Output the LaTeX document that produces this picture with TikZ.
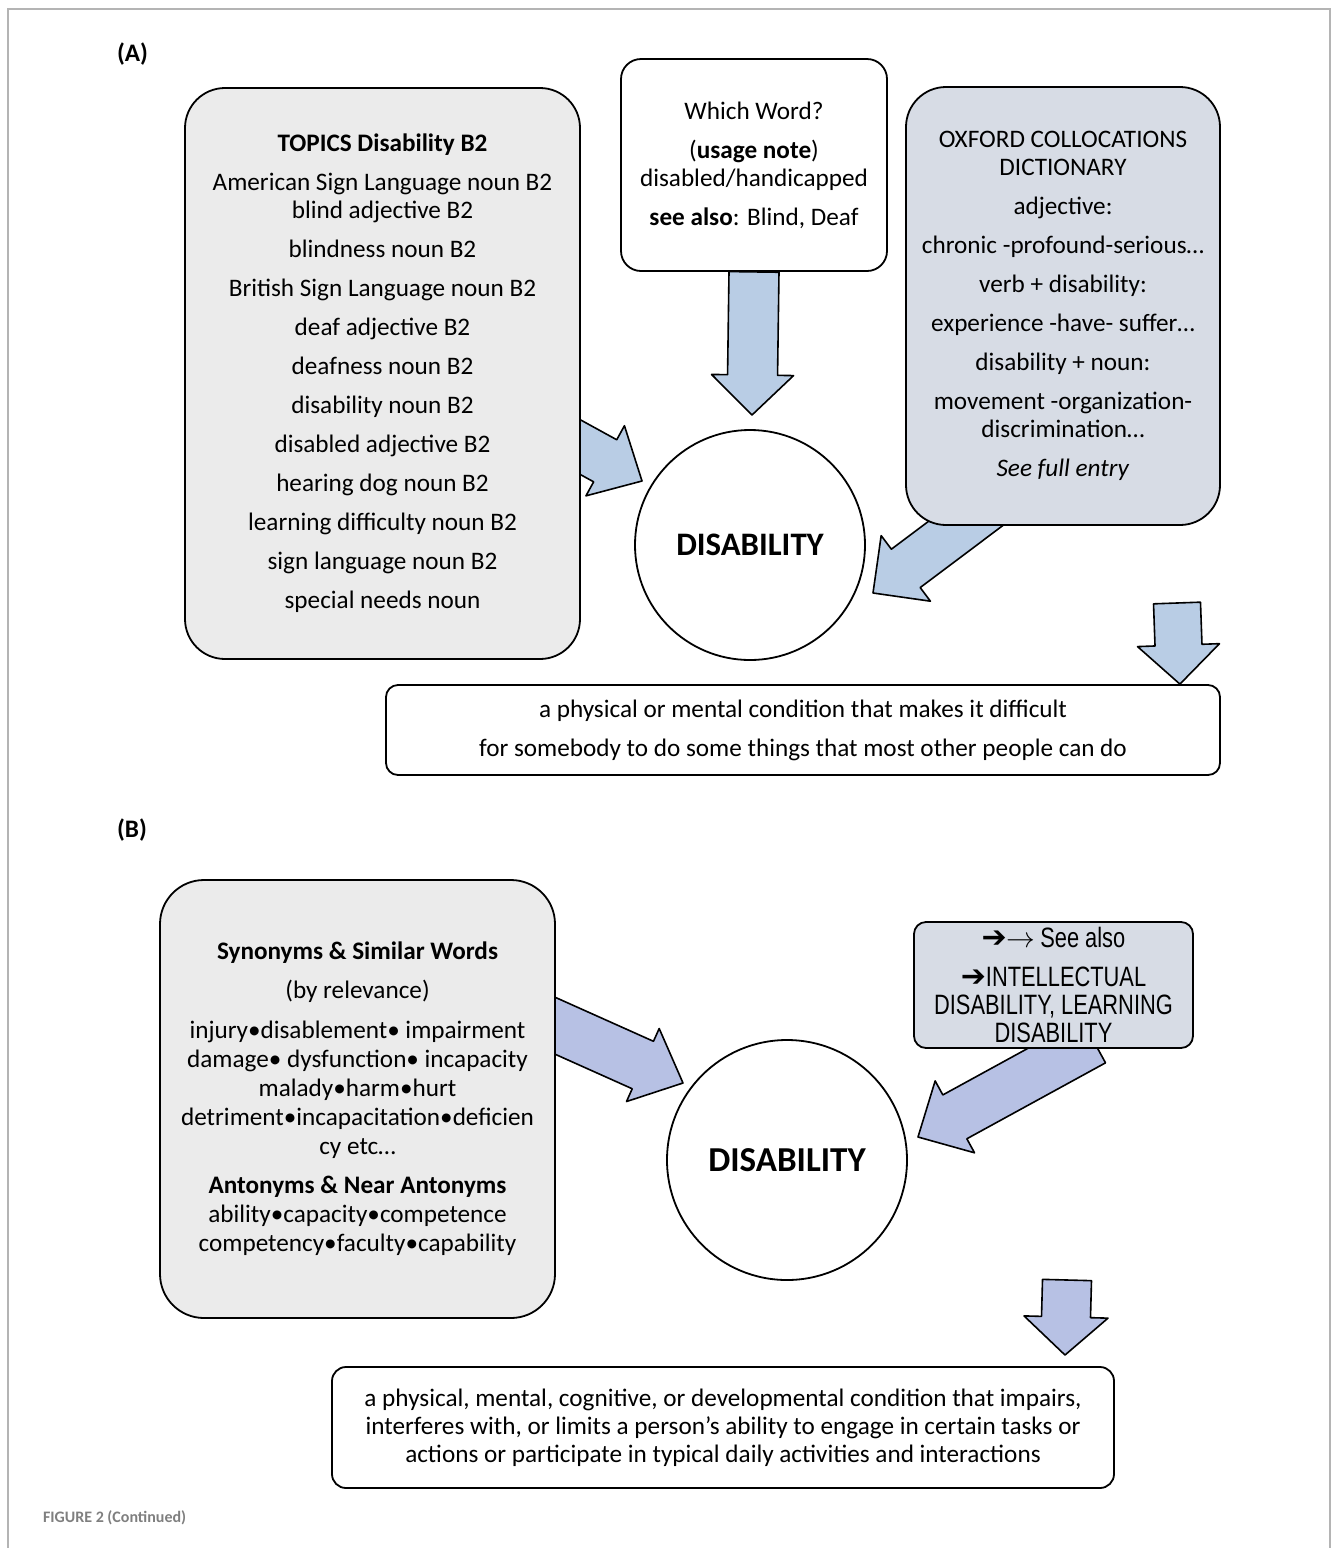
\documentclass[tikz,border=0pt]{standalone}
\usepackage{fontspec}
\setmainfont{Carlito}
\newfontfamily\arialfont{Liberation Sans}
\newfontfamily\symfont{DejaVu Sans}
\usepackage{graphicx}
\usetikzlibrary{calc,backgrounds}

\definecolor{arrowblue}{HTML}{B9CDE5}
\definecolor{arrowlav}{HTML}{B7C1E4}
\definecolor{boxgray}{HTML}{EBEBEB}
\definecolor{boxblue}{HTML}{D7DCE5}
\definecolor{framegray}{HTML}{B4B4B4}
\definecolor{capgray}{HTML}{7F7F7F}

% block arrow: [fill] {tail}{tip}{half shaft}{half head}{head length}
\newcommand{\fatarrow}[6][arrowblue]{%
  \draw[fatarrowline, fill=#1]
    ($(#2)!#4!90:(#3)$) -- ($(#3)!#6!(#2)!#4!-90:(#2)$) -- ($(#3)!#6!(#2)!#5!-90:(#2)$)
    -- (#3) -- ($(#3)!#6!(#2)!#5!90:(#2)$) -- ($(#3)!#6!(#2)!#4!90:(#2)$)
    -- ($(#2)!#4!-90:(#3)$) -- cycle;}
\newcommand{\squeeze}[1]{\scalebox{0.78}[1]{#1}}
\newcommand{\heavyarrow}{{\symfont\bfseries\fontsize{15}{14}\selectfont ➔}}

\begin{document}
\begin{tikzpicture}[x=0.5pt, y=-0.5pt,
    font=\fontsize{12.6}{14}\selectfont,
    box/.style={draw, line width=0.9pt, align=center, inner sep=0pt},
    graybox/.style={box, fill=boxgray, rounded corners=20pt},
    bluebox/.style={box, fill=boxblue},
    whitebox/.style={box, fill=white},
    disk/.style={draw, line width=0.9pt, circle, fill=white, inner sep=0pt},
    panellabel/.style={font=\fontsize{12.6}{14}\selectfont\bfseries, anchor=west},
    fatarrowline/.style={draw, line width=0.8pt, line join=round}]
  \useasboundingbox (0,0) rectangle (1331,1548);
  % page frame
  \draw[framegray, line width=1pt] (8,1548) -- (8,9) -- (1330,9) -- (1330,1548);

  % panel (A)
  \node[panellabel] (labA) at (110,54) {(A)};
  \node[graybox, minimum width=197.5pt, minimum height=285.5pt] (topics) at (382.5,373.5)
    {\textbf{TOPICS Disability B2}\\[5.5pt]
     American Sign Language noun B2\\
     blind adjective B2\\[5.5pt]
     blindness noun B2\\[5.5pt]
     British Sign Language noun B2\\[5.5pt]
     deaf adjective B2\\[5.5pt]
     deafness noun B2\\[5.5pt]
     disability noun B2\\[5.5pt]
     disabled adjective B2\\[5.5pt]
     hearing dog noun B2\\[5.5pt]
     learning difficulty noun B2\\[5.5pt]
     sign language noun B2\\[5.5pt]
     special needs noun};
  \node[whitebox, rounded corners=10pt, minimum width=133pt, minimum height=106pt] (which) at (754,165)
    {Which Word?\\[5.5pt]
     (\textbf{usage note})\\
     disabled/handicapped\\[5.5pt]
     \textbf{see also}: Blind, Deaf};
  \node[bluebox, rounded corners=20pt, minimum width=157pt, minimum height=219pt] (oxford) at (1063,306)
    {OXFORD COLLOCATIONS\\
     DICTIONARY\\[5.5pt]
     adjective:\\[5.5pt]
     chronic -profound-serious\dots\\[5.5pt]
     verb + disability:\\[5.5pt]
     experience -have- suffer\dots\\[5.5pt]
     disability + noun:\\[5.5pt]
     movement -organization-\\
     discrimination\dots\\[5.5pt]
     \textit{See full entry}};
  \node[disk, minimum size=115pt, font=\fontsize{16.4}{18}\selectfont\bfseries] (diskA) at (750,545) {DISABILITY};
  \node[whitebox, rounded corners=6pt, minimum width=417pt, minimum height=45pt] (defA) at (803,730)
    {a physical or mental condition that makes it difficult\\[5.5pt]
     for somebody to do some things that most other people can do};

  % panel (B)
  \node[panellabel] (labB) at (110,830) {(B)};
  \node[graybox, rounded corners=22pt, minimum width=197.5pt, minimum height=219pt,
        font=\fontsize{12.6}{14.5}\selectfont] (synonyms) at (357.5,1099)
    {\textbf{Synonyms \& Similar Words}\\[5pt]
     (by relevance)\\[5.5pt]
     injury•disablement• impairment\\
     damage• dysfunction• incapacity\\
     malady•harm•hurt\\
     detriment•incapacitation•deficien\\
     cy etc\dots\\[5pt]
     \textbf{Antonyms \& Near Antonyms}\\
     ability•capacity•competence\\
     competency•faculty•capability};
  \node[bluebox, rounded corners=6pt, minimum width=139.5pt, minimum height=63pt,
        font=\arialfont\fontsize{14}{14}\selectfont] (seealso) at (1053.5,985)
    {\heavyarrow$\rightarrow$\,\squeeze{See also}\\[5.5pt]
     \heavyarrow\squeeze{INTELLECTUAL}\\
     \squeeze{DISABILITY, LEARNING}\\
     \squeeze{DISABILITY}};
  \node[disk, minimum size=120pt, font=\fontsize{17.5}{19}\selectfont\bfseries] (diskB) at (787,1160) {DISABILITY};
  \node[whitebox, rounded corners=7pt, minimum width=391pt, minimum height=60.5pt] (defB) at (723,1427.5)
    {a physical, mental, cognitive, or developmental condition that impairs,\\
     interferes with, or limits a person's ability to engage in certain tasks or\\
     actions or participate in typical daily activities and interactions};

  \node[font=\fontsize{8}{9}\selectfont\bfseries, text=capgray, anchor=west] (caption) at (36,1518)
    {FIGURE 2 (Continued)};

  % block arrows, behind the boxes
  \begin{pgfonlayer}{background}
    \coordinate (tipA1) at (752,415);
    \coordinate (tipA2) at (642,481);
    \coordinate (tipA3) at (873,593);
    \coordinate (tailA4) at (1177,603);
    \coordinate (tipA4) at ($(defA.north east)+(-41,0)$);
    \fatarrow{which.south}{tipA1}{12.5pt}{20.5pt}{20pt}
    \fatarrow{$(topics.east)+(-40,52)$}{tipA2}{12pt}{20pt}{21pt}
    \fatarrow{$(oxford.south)+(-70,-23)$}{tipA3}{12pt}{20.5pt}{20.5pt}
    \fatarrow{tailA4}{tipA4}{11.75pt}{20.5pt}{19.5pt}

    \coordinate (tipB1) at (683,1083);
    \coordinate (tipB2) at (918,1137);
    \coordinate (tailB3) at (1067,1280);
    \coordinate (tipB3) at (1065,1355);
    \fatarrow[arrowlav]{$(synonyms.east)+(-27,-85)$}{tipB1}{13pt}{20pt}{22pt}
    \fatarrow[arrowlav]{$(seealso.south)+(40,-8)$}{tipB2}{12.5pt}{20.5pt}{21pt}
    \fatarrow[arrowlav]{tailB3}{tipB3}{12.25pt}{21pt}{19pt}
  \end{pgfonlayer}
\end{tikzpicture}
\end{document}
